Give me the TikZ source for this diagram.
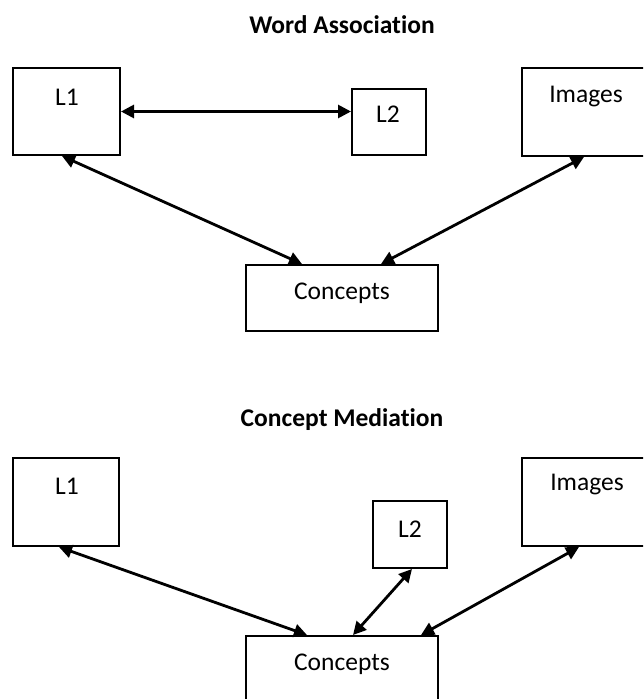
\documentclass[tikz,border=0pt]{standalone}
\usepackage{fontspec}
\setmainfont{Carlito}[Ligatures={NoCommon}]
\usetikzlibrary{arrows.meta,calc}
\tikzset{
  box/.style={draw=black, line width=2pt, rectangle, inner sep=0pt, fill=white},
  lbl/.style={font=\fontsize{25.5}{28}\selectfont, inner sep=0pt, anchor=center},
  ttl/.style={font=\fontsize{25.5}{28}\selectfont\bfseries, inner sep=0pt, anchor=center},
  dbl/.style={line width=2.8pt, {Triangle[length=13pt,width=13pt]}-{Triangle[length=13pt,width=13pt]}}
}
\begin{document}
\begin{tikzpicture}[x=1pt,y=-1pt]
\useasboundingbox (0,0) rectangle (643,699);
\clip (0,0) rectangle (643,699);
\fill[white] (0,0) rectangle (643,699);

% ---------- Word Association ----------
\node[ttl] (t1) at (342,25) {Word Association};
\node[box, minimum width=107pt, minimum height=87pt] (l1a) at (66.5,111.5) {};
\node[lbl] (l1at) at (67,97) {L1};
\node[box, minimum width=74pt, minimum height=66pt] (l2a) at (389,122) {};
\node[lbl] (l2at) at (388,114) {L2};
\node[box, minimum width=124pt, minimum height=88pt] (ima) at (584,112) {};
\node[lbl] (imat) at (586,97) {Images};
\node[box, minimum width=192pt, minimum height=66pt] (coa) at (342,298) {};
\node[lbl] (coat) at (342,293) {Concepts};

\draw[dbl] (l1a.east) -- (l1a.east -| l2a.west);
\draw[dbl] ($(l1a.south west)+(50,0)$) -- ($(coa.north west)+(57,0)$);
\draw[dbl] ($(ima.south west)+(63,0)$) -- ($(coa.north west)+(136,0)$);

% ---------- Concept Mediation ----------
\node[ttl] (t2) at (342,420) {Concept Mediation};
\node[box, minimum width=106pt, minimum height=88pt] (l1b) at (66,502) {};
\node[lbl] (l1bt) at (67,486) {L1};
\node[box, minimum width=74pt, minimum height=67pt] (l2b) at (410,534.5) {};
\node[lbl] (l2bt) at (410,529) {L2};
\node[box, minimum width=124pt, minimum height=88pt] (imb) at (584,502) {};
\node[lbl] (imbt) at (587,485) {Images};
\node[box, minimum width=192pt, minimum height=66pt] (cob) at (342,669) {};
\node[lbl] (cobt) at (342,664) {Concepts};

\draw[dbl] ($(l1b.south west)+(47,0)$) -- ($(cob.north west)+(62,0)$);
\draw[dbl] ($(l2b.south west)+(40,0)$) -- ($(cob.north west)+(108,0)$);
\draw[dbl] ($(imb.south west)+(58,0)$) -- ($(cob.north west)+(176,0)$);
\end{tikzpicture}
\end{document}
